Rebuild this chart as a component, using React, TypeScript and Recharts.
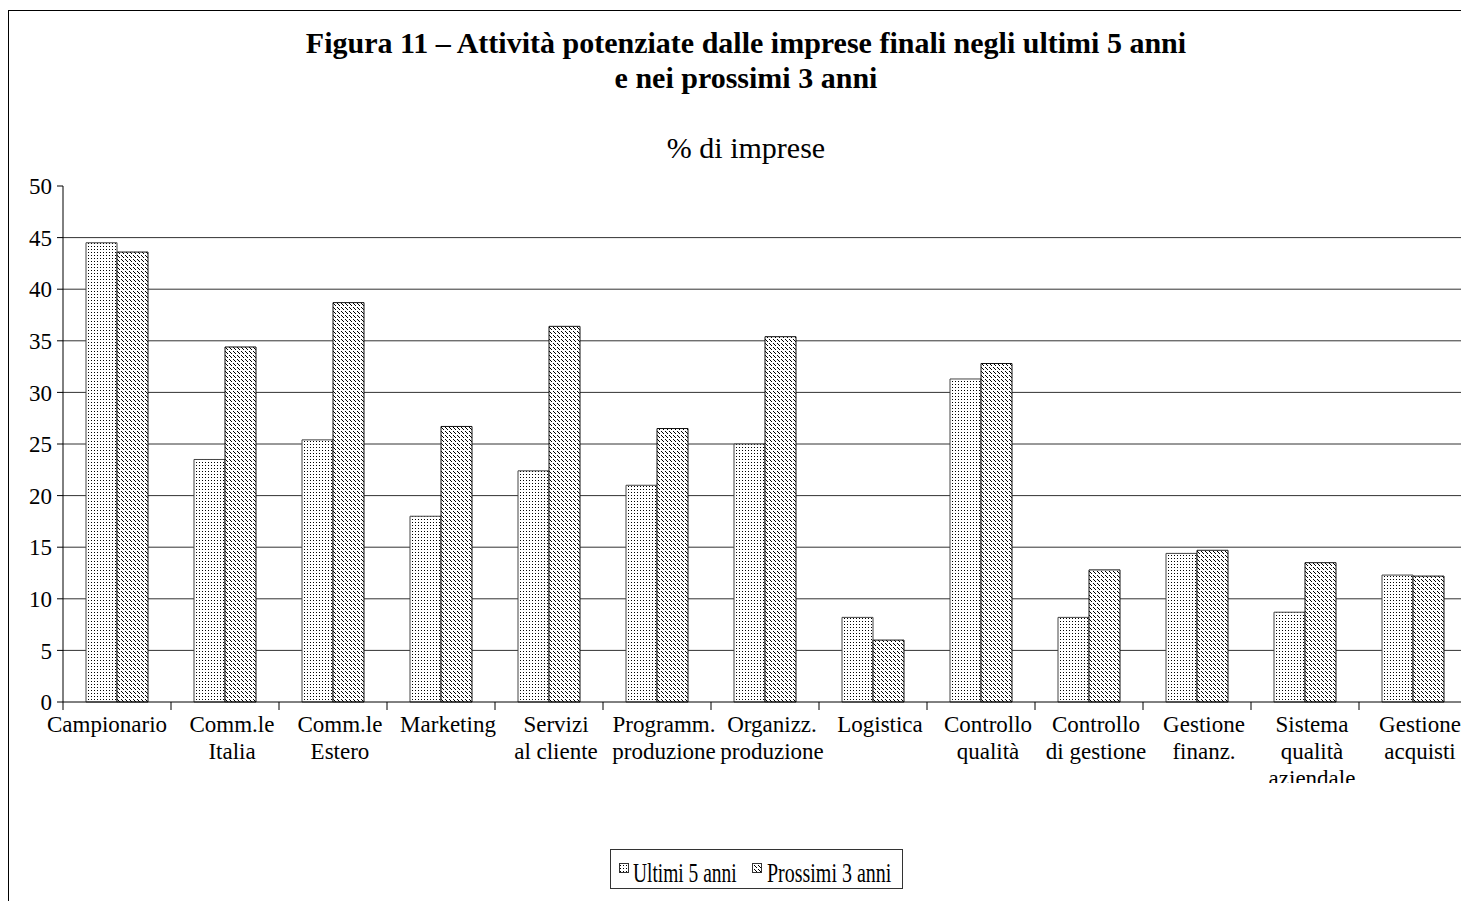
import { Bar, BarChart, CartesianGrid, Legend, XAxis, YAxis } from 'recharts'

const categorie = [
  'Campionario',
  'Comm.le\nItalia',
  'Comm.le\nEstero',
  'Marketing',
  'Servizi\nal cliente',
  'Programm.\nproduzione',
  'Organizz.\nproduzione',
  'Logistica',
  'Controllo\nqualità',
  'Controllo\ndi gestione',
  'Gestione\nfinanz.',
  'Sistema\nqualità\naziendale',
  'Gestione\nacquisti',
]

const ultimi5 = [44.5, 23.5, 25.4, 18.0, 22.4, 21.0, 25.0, 8.2, 31.3, 8.2, 14.4, 8.7, 12.3]
const prossimi3 = [43.6, 34.4, 38.7, 26.7, 36.4, 26.5, 35.4, 6.0, 32.8, 12.8, 14.7, 13.5, 12.2]

const ticksY = [0, 5, 10, 15, 20, 25, 30, 35, 40, 45, 50]
const gridY = [5, 10, 15, 20, 25, 30, 35, 40, 45]
const MAX_Y = 50

const dati = categorie.map((c, i) => ({ categoria: c, ultimi: ultimi5[i], prossimi: prossimi3[i] }))

const FONT = '"Liberation Serif", "Times New Roman", serif'
const W = 1469
const H = 890
const MARGIN = { top: 175, right: 11, bottom: 15, left: 0 }
const YW = 54
const BAND = (W - YW - MARGIN.left - MARGIN.right) / categorie.length

const Patterns = ({ p }: { p: string }) => (
  <>
    <pattern id={p + 'dots'} width="3" height="3" patternUnits="userSpaceOnUse">
      <rect width="3" height="3" fill="#fff" />
      <rect x="1" y="1" width="1" height="1" fill="#000" />
    </pattern>
    <pattern id={p + 'hatch'} width="4" height="4" patternUnits="userSpaceOnUse">
      <rect width="4" height="4" fill="#fff" />
      <rect x="0" y="0" width="1" height="1" fill="#000" />
      <rect x="1" y="1" width="1" height="1" fill="#000" />
      <rect x="2" y="2" width="1" height="1" fill="#000" />
    </pattern>
  </>
)

const TickCategoria = (props: any) => {
  const { x, y, payload, index } = props
  const righe = String(payload.value).split('\n')
  // Excel sposta leggermente le etichette
  const tx = x + (index === 0 ? -10 : 7)
  return (
    <g>
      <line x1={x + BAND / 2} x2={x + BAND / 2} y1={y} y2={y + 8} stroke="#000" />
      {index === 0 && <line x1={x - BAND / 2} x2={x - BAND / 2} y1={y} y2={y + 8} stroke="#000" />}
      <g clipPath="url(#tickClip)">
        <text x={tx} y={y + 30} textAnchor="middle" fontSize={23} fontFamily={FONT} fill="#000">
          {righe.map((r, i) => (
            <tspan key={i} x={tx} dy={i === 0 ? 0 : 27}>{r}</tspan>
          ))}
        </text>
      </g>
    </g>
  )
}

const Legenda = () => (
  <svg width={293} height={40} style={{ display: 'block' }}>
    <defs><Patterns p="lg" /></defs>
    <rect x={0.5} y={0.5} width={292} height={39} fill="#fff" stroke="#333" />
    <rect x={9.5} y={14.5} width={9} height={9} fill="url(#lgdots)" stroke="#333" />
    <text transform="translate(23,33) scale(0.72,1)" fontFamily={FONT} fontSize={27} fill="#000">Ultimi 5 anni</text>
    <rect x={142.5} y={14.5} width={9} height={9} fill="url(#lghatch)" stroke="#333" />
    <text transform="translate(157,33) scale(0.74,1)" fontFamily={FONT} fontSize={27} fill="#000">Prossimi 3 anni</text>
  </svg>
)

export default function App() {
  return (
    <div style={{ position: 'relative', width: W + 2, height: H + 2, marginTop: 2, border: '1px solid #000', boxSizing: 'border-box', fontFamily: FONT, background: '#fff' }}>
      <BarChart width={W} height={H} data={dati} margin={MARGIN} barCategoryGap={23} barGap={0}>
        <defs>
          <Patterns p="" />
          <clipPath id="tickClip">
            <rect x="0" y="0" width={W} height="772" />
          </clipPath>
        </defs>
        <CartesianGrid
          vertical={false}
          stroke="#333"
          horizontalCoordinatesGenerator={({ offset }: any) =>
            gridY.map(v => offset.top + offset.height * (1 - v / MAX_Y))
          }
        />
        <XAxis
          dataKey="categoria"
          interval={0}
          height={144}
          tickSize={0}
          tickMargin={0}
          axisLine={{ stroke: '#000' }}
          tick={<TickCategoria />}
        />
        <YAxis
          width={YW}
          domain={[0, MAX_Y]}
          ticks={ticksY}
          interval={0}
          tickSize={6}
          tickMargin={5}
          axisLine={{ stroke: '#000' }}
          tickLine={{ stroke: '#000' }}
          tick={{ fill: '#000', fontSize: 23, fontFamily: FONT }}
        />
        <Legend
          verticalAlign="bottom"
          content={<Legenda />}
          wrapperStyle={{ width: 'auto', left: 601, bottom: 12 }}
        />
        <Bar dataKey="ultimi" name="Ultimi 5 anni" fill="url(#dots)" stroke="#444" strokeWidth={1} isAnimationActive={false} />
        <Bar dataKey="prossimi" name="Prossimi 3 anni" fill="url(#hatch)" stroke="#111" strokeWidth={1} isAnimationActive={false} />
      </BarChart>
      <svg width={W} height={180} style={{ position: 'absolute', left: 0, top: 0, pointerEvents: 'none' }}>
        <text x={737} y={42} textAnchor="middle" fontFamily={FONT} fontSize={30} fontWeight="bold" fill="#000">
          Figura 11 – Attività potenziate dalle imprese finali negli ultimi 5 anni
        </text>
        <text x={737} y={77} textAnchor="middle" fontFamily={FONT} fontSize={30} fontWeight="bold" fill="#000">
          e nei prossimi 3 anni
        </text>
        <text x={737} y={147} textAnchor="middle" fontFamily={FONT} fontSize={30} fill="#000">
          % di imprese
        </text>
      </svg>
    </div>
  )
}
